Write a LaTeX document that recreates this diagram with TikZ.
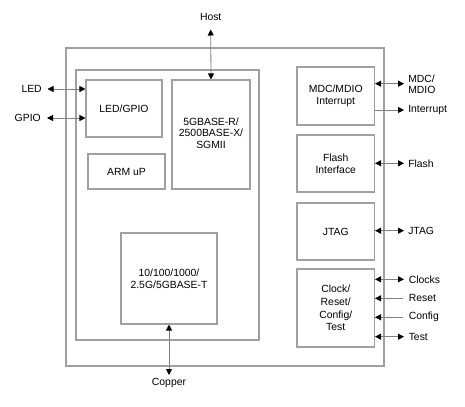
\documentclass[tikz,border=0pt]{standalone}
\usepackage{fontspec}
\setmainfont{Liberation Sans}
\usetikzlibrary{arrows.meta}
\definecolor{boxline}{HTML}{A0A0A0}
\definecolor{arrline}{HTML}{808080}
\tikzset{
  blk/.style={draw=boxline, line width=0.8pt, inner sep=0pt, align=center,
    font=\fontsize{7.8}{9.3}\selectfont},
  frame/.style={draw=boxline, line width=0.8pt, inner sep=0pt},
  lbl/.style={inner sep=0pt, align=left, font=\fontsize{7.8}{8.6}\selectfont},
  sig/.style={draw=arrline, line width=0.6pt},
  tip/.style={-{Triangle[length=4.5pt,width=4.5pt,color=black]}},
  both/.style={{Triangle[length=4.5pt,width=4.5pt,color=black]}-{Triangle[length=4.5pt,width=4.5pt,color=black]}},
  intip/.style={{Triangle[length=4.5pt,width=4.5pt,color=black]}-},
}
\begin{document}
\begin{tikzpicture}[x=0.75pt,y=-0.75pt]
\useasboundingbox (0,0) rectangle (465,407);
% frames
\node[frame, minimum width=238.5pt, minimum height=238.5pt] (outer) at (225,207) {};
\node[frame, minimum width=137.25pt, minimum height=202.5pt] (inner) at (167.5,205) {};
% blocks
\node[blk, minimum width=57pt, minimum height=42.75pt] (led) at (124,108.5) {LED/GPIO};
\node[blk, minimum width=58.5pt, minimum height=81.75pt] (serdes) at (211,134.5) {\raisebox{2.5pt}{\begin{tabular}{@{}c@{}}5GBASE-R/\\[-0.6pt]2500BASE-X/\\[-0.6pt]SGMII\end{tabular}}};
\node[blk, minimum width=57.75pt, minimum height=26.25pt] (arm) at (126.5,171.5) {ARM uP};
\node[blk, minimum width=72pt, minimum height=68.25pt] (phy) at (169,278.5) {10/100/1000/\\2.5G/5GBASE-T};
\node[blk, minimum width=58.1pt, minimum height=43.5pt] (mdc) at (335.75,96) {MDC/MDIO\\Interrupt};
\node[blk, minimum width=58.1pt, minimum height=42.75pt] (flash) at (335.75,163.5) {Flash\\Interface};
\node[blk, minimum width=58.1pt, minimum height=42.75pt] (jtag) at (335.75,231.5) {JTAG};
\node[blk, minimum width=58.1pt, minimum height=58.5pt, font=\fontsize{7.8}{9.6}\selectfont] (clk) at (335.75,308) {Clock/\\Reset/\\Config/\\Test};
% end points
\coordinate (hostE) at (210.7,29.5);
\coordinate (copE) at (169,375);
\coordinate (ledE) at (47.5,89);
\coordinate (gpioE) at (47,118);
\coordinate (mdcE) at (404,83.7);
\coordinate (intE) at (404,110);
\coordinate (flashE) at (404,163.3);
\coordinate (jtagE) at (404,230.7);
\coordinate (clkE) at (404,279.3);
\coordinate (rstE) at (403,298.3);
\coordinate (cfgE) at (403,317.3);
\coordinate (tstE) at (404,336.7);
% connectors
\draw[sig,both] (hostE) -- (serdes.north);
\draw[sig,both] (phy.south) -- (copE);
\draw[sig,both] (ledE) -- (led.west |- ledE);
\draw[sig,both] (gpioE) -- (led.west |- gpioE);
\draw[sig,both] (mdc.east |- mdcE) -- (mdcE);
\draw[sig,tip] (mdc.east |- intE) -- (intE);
\draw[sig,both] (flash.east |- flashE) -- (flashE);
\draw[sig,both] (jtag.east |- jtagE) -- (jtagE);
\draw[sig,both] (clk.east |- clkE) -- (clkE);
\draw[sig,intip] (clk.east |- rstE) -- (rstE);
\draw[sig,intip] (clk.east |- cfgE) -- (cfgE);
\draw[sig,both] (clk.east |- tstE) -- (tstE);
% labels
\node[lbl, anchor=base] (hostL) at (210.7,21) {Host};
\node[lbl, anchor=base] (copL) at (169,385.5) {Copper};
\node[lbl, anchor=east] (ledL) at (42,89) {LED};
\node[lbl, anchor=east] (gpioL) at (41,118) {GPIO};
\node[lbl, anchor=west] (mdcL) at (408,84.5) {MDC/\\MDIO};
\node[lbl, anchor=west] (intL) at (408,110) {Interrupt};
\node[lbl, anchor=west] (flashL) at (408,163.3) {Flash};
\node[lbl, anchor=west] (jtagL) at (408,230.7) {JTAG};
\node[lbl, anchor=west] (clkL) at (408.5,279.3) {Clocks};
\node[lbl, anchor=west] (rstL) at (408.5,298.3) {Reset};
\node[lbl, anchor=west] (cfgL) at (408.5,317.3) {Config};
\node[lbl, anchor=west] (tstL) at (408.5,336.7) {Test};
\end{tikzpicture}
\end{document}
